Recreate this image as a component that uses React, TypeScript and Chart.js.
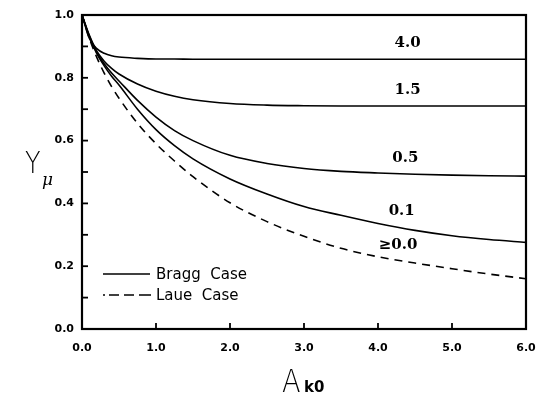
import React, { useEffect, useRef } from "react";
import { Chart, registerables } from "chart.js";

Chart.register(...registerables);

const xs = [0, 0.1, 0.2, 0.3, 0.4, 0.5, 0.75, 1, 1.25, 1.5, 2, 2.5, 3, 3.5, 4, 4.5, 5, 5.5, 6];
const bragg40 = [1.0, 0.925, 0.893, 0.878, 0.87, 0.866, 0.862, 0.86, 0.86, 0.859, 0.859, 0.859, 0.859, 0.859, 0.859, 0.859, 0.859, 0.859, 0.859];
const bragg15 = [1.0, 0.935, 0.885, 0.853, 0.83, 0.812, 0.78, 0.757, 0.741, 0.73, 0.718, 0.713, 0.711, 0.71, 0.71, 0.71, 0.71, 0.71, 0.71];
const bragg05 = [1.0, 0.932, 0.88, 0.845, 0.815, 0.79, 0.728, 0.675, 0.632, 0.6, 0.553, 0.527, 0.511, 0.502, 0.497, 0.493, 0.49, 0.488, 0.487];
const bragg01 = [1.0, 0.93, 0.877, 0.838, 0.805, 0.777, 0.7, 0.635, 0.584, 0.542, 0.478, 0.43, 0.39, 0.362, 0.336, 0.314, 0.297, 0.285, 0.276];
const laue00 = [1.0, 0.925, 0.865, 0.815, 0.772, 0.735, 0.655, 0.59, 0.535, 0.485, 0.402, 0.342, 0.295, 0.257, 0.23, 0.21, 0.192, 0.175, 0.16];

const curveLabels = ["4.0", "1.5", "0.5", "0.1", "\u22650.0"];
const curveLabelX = [4.4, 4.4, 4.37, 4.32, 4.27];
const curveLabelY = [0.91, 0.762, 0.545, 0.376, 0.268];

const xTickValues = [0, 1, 2, 3, 4, 5, 6];
const xTickLabels = ["0.0", "1.0", "2.0", "3.0", "4.0", "5.0", "6.0"];
const yLabelValues = [0, 0.2, 0.4, 0.6, 0.8, 1.0];
const yTickLabels = ["0.0", "0.2", "0.4", "0.6", "0.8", "1.0"];
const yMinorTicks = [0.1, 0.2, 0.3, 0.4, 0.5, 0.6, 0.7, 0.8, 0.9];
const xMinorTicks = [1, 2, 3, 4, 5];

const legendLabels = ["Bragg  Case", "Laue  Case"];

const toPts = (ys: number[]) => xs.map((x, i) => ({ x, y: ys[i] }));

const overlay = {
  id: "overlay",
  afterDraw(chart: any) {
    const { ctx, chartArea: a, scales } = chart;
    const xs_ = scales.x;
    const ys_ = scales.y;
    ctx.save();
    ctx.strokeStyle = "#000";
    ctx.fillStyle = "#000";
    // frame
    ctx.lineWidth = 2.2;
    ctx.setLineDash([]);
    ctx.strokeRect(a.left, a.top, a.right - a.left, a.bottom - a.top);
    // inward ticks
    ctx.lineWidth = 1.8;
    yMinorTicks.forEach((v) => {
      const py = ys_.getPixelForValue(v);
      ctx.beginPath();
      ctx.moveTo(a.left, py);
      ctx.lineTo(a.left + 6, py);
      ctx.stroke();
    });
    xMinorTicks.forEach((v) => {
      const px = xs_.getPixelForValue(v);
      ctx.beginPath();
      ctx.moveTo(px, a.bottom);
      ctx.lineTo(px, a.bottom - 6);
      ctx.stroke();
    });
    // curve labels
    ctx.font = "bold 15px 'DejaVu Serif'";
    ctx.textAlign = "center";
    ctx.textBaseline = "middle";
    curveLabels.forEach((t, i) => {
      ctx.fillText(t, xs_.getPixelForValue(curveLabelX[i]), ys_.getPixelForValue(curveLabelY[i]));
    });
    // legend
    const lx = a.left + 21;
    const ly1 = a.top + 259;
    const ly2 = a.top + 280;
    ctx.lineWidth = 1.4;
    ctx.beginPath();
    ctx.moveTo(lx, ly1);
    ctx.lineTo(lx + 47, ly1);
    ctx.stroke();
    ctx.setLineDash([2, 4, 10, 5, 10, 5, 12, 0]);
    ctx.beginPath();
    ctx.moveTo(lx, ly2);
    ctx.lineTo(lx + 48, ly2);
    ctx.stroke();
    ctx.setLineDash([]);
    ctx.font = "15px 'DejaVu Sans'";
    ctx.textAlign = "left";
    ctx.fillText(legendLabels[0], lx + 53, ly1 + 1);
    ctx.fillText(legendLabels[1], lx + 53, ly2 + 1);
    // y axis title
    ctx.textBaseline = "alphabetic";
    ctx.font = "300 30px 'DejaVu Sans'";
    ctx.save();
    ctx.translate(25, 173);
    ctx.scale(0.85, 1);
    ctx.fillText("Y", 0, 0);
    ctx.restore();
    ctx.font = "italic 17px 'DejaVu Serif'";
    ctx.fillText("\u03BC", 42, 185);
    // x axis title
    ctx.save();
    ctx.translate(282, 392);
    ctx.scale(0.85, 1);
    ctx.font = "300 32px 'DejaVu Sans'";
    ctx.fillText("A", 0, 0);
    ctx.restore();
    ctx.font = "bold 15px 'DejaVu Sans'";
    ctx.fillText("k0", 304, 392);
    ctx.restore();
  },
};

export default function App() {
  const ref = useRef<HTMLCanvasElement | null>(null);
  useEffect(() => {
    document.body.style.margin = "0";
    const ds = (data: number[], dashed: boolean) => ({
      data: toPts(data),
      borderColor: "#000",
      borderWidth: 1.6,
      borderDash: dashed ? [8, 6] : [],
      pointRadius: 0,
      cubicInterpolationMode: "monotone" as const,
      fill: false,
    });
    const chart = new Chart(ref.current!, {
      type: "line",
      data: {
        datasets: [
          ds(bragg40, false),
          ds(bragg15, false),
          ds(bragg05, false),
          ds(bragg01, false),
          ds(laue00, true),
        ],
      },
      options: {
        animation: false,
        responsive: false,
        layout: { padding: { top: 15, right: 12, left: 0, bottom: 0 } },
        plugins: { legend: { display: false }, tooltip: { enabled: false } },
        scales: {
          x: {
            type: "linear",
            min: 0,
            max: 6,
            grid: { display: false, drawTicks: false },
            border: { display: false },
            afterBuildTicks: (s: any) => {
              s.ticks = xTickValues.map((v) => ({ value: v }));
            },
            afterFit: (s: any) => {
              s.height = 66;
              s.paddingRight = 0;
              s.paddingLeft = 0;
            },
            ticks: {
              padding: 13,
              color: "#000",
              maxRotation: 0,
              font: { family: "'DejaVu Sans'", weight: "bold", size: 11 },
              callback: (v: any) => {
                const i = xTickValues.indexOf(Number(v));
                return i >= 0 ? xTickLabels[i] : "";
              },
            },
          },
          y: {
            type: "linear",
            min: 0,
            max: 1,
            grid: { display: false, drawTicks: false },
            border: { display: false },
            afterBuildTicks: (s: any) => {
              s.ticks = yLabelValues.map((v) => ({ value: v }));
            },
            afterFit: (s: any) => {
              s.width = 82;
              s.paddingTop = 0;
              s.paddingBottom = 0;
            },
            ticks: {
              padding: 8,
              color: "#000",
              font: { family: "'DejaVu Sans'", weight: "bold", size: 11 },
              callback: (v: any) => {
                const i = yLabelValues.findIndex((t) => Math.abs(t - Number(v)) < 1e-6);
                return i >= 0 ? yTickLabels[i] : "";
              },
            },
          },
        },
      },
      plugins: [overlay],
    });
    return () => chart.destroy();
  }, []);
  return <canvas ref={ref} width={538} height={395} style={{ display: "block" }} />;
}
